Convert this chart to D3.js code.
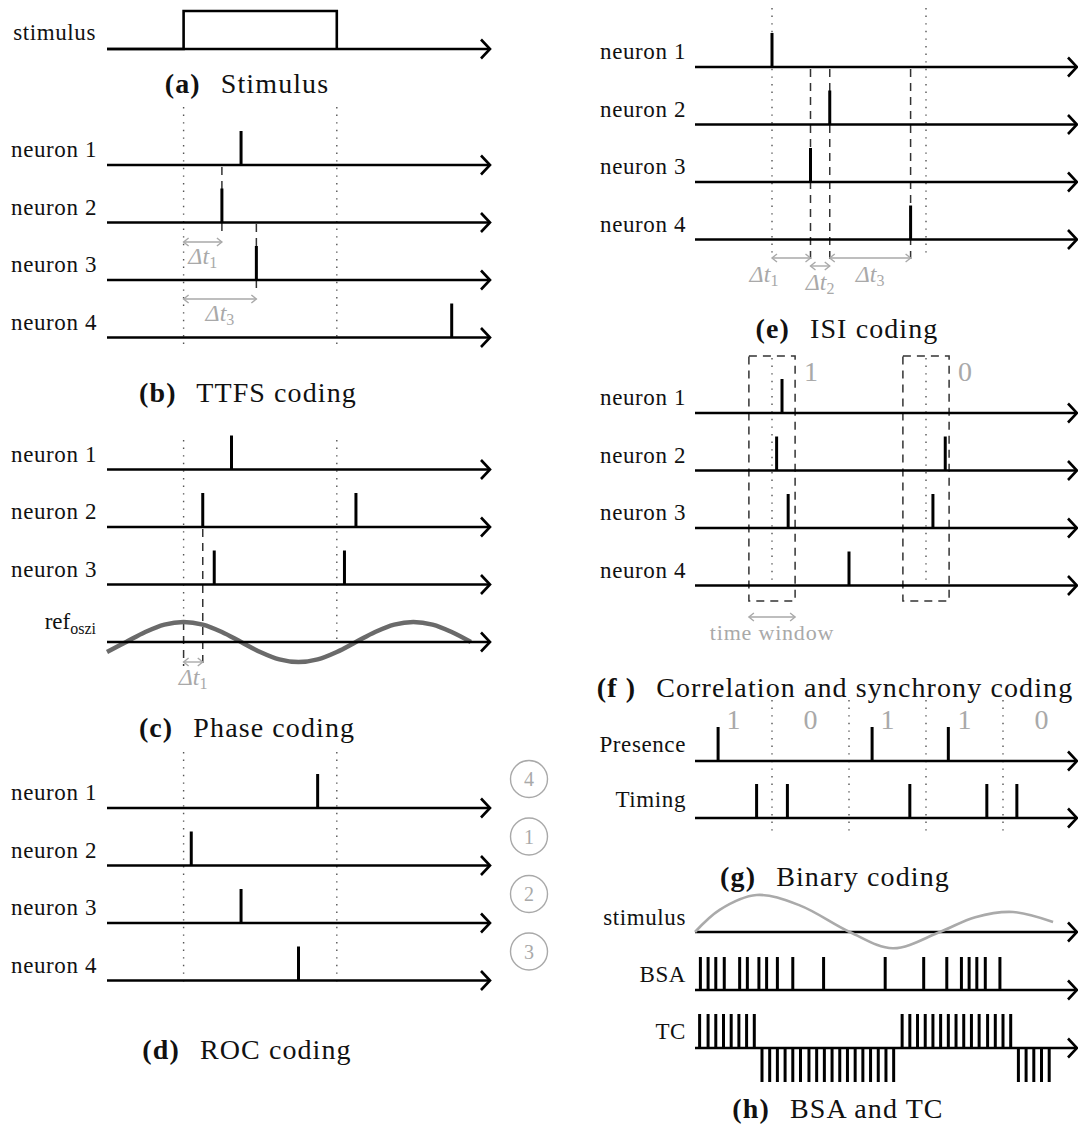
<!DOCTYPE html>
<html>
<head>
<meta charset="utf-8">
<script src="https://cdn.jsdelivr.net/npm/d3@7"></script>
<style>
  body { margin: 0; background: #fff; }
  text { font-family: "Liberation Serif", "DejaVu Serif", serif; }
</style>
</head>
<body>
<svg id="chart"></svg>
<script>
// ---- data (time units: left panels 0..10, right panels 0..5) ----
const stimulusPulse = [[0, 0], [2, 0], [2, 1], [6, 1], [6, 0]];
const neuronLabels = ["neuron 1", "neuron 2", "neuron 3", "neuron 4"];

// (b) TTFS
const ttfsSpikes = [3.5, 3.0, 3.9, 9.0];

// (c) phase coding
const phaseSpikes = [[3.25], [2.5, 6.5], [2.8, 6.2]];
const refOscT = [0, 0.5, 1, 1.5, 2, 2.5, 3, 3.5, 4, 4.5, 5, 5.5, 6, 6.5, 7, 7.5, 8, 8.5, 9, 9.5];
const refOscV = [-0.5, 0, 0.5, 0.87, 1, 0.87, 0.5, 0, -0.5, -0.87, -1, -0.87, -0.5, 0, 0.5, 0.87, 1, 0.87, 0.5, 0];

// (d) rank order
const rocSpikes = [5.5, 2.2, 3.5, 5.0];
const rocRanks = [4, 1, 2, 3];

// (e) ISI
const isiSpikes = [1.0, 1.75, 1.5, 2.8];

// (f) correlation / synchrony
const syncSpikes = [[1.13], [1.06, 3.25], [1.21, 3.09], [2.0]];
const syncWindows = [[0.7, 1.3], [2.7, 3.3]];
const syncBits = ["1", "0"];

// (g) binary coding
const binBits = ["1", "0", "1", "1", "0"];
const presenceSpikes = [0.3, 2.3, 3.29];
const timingSpikes = [0.8, 1.2, 2.79, 3.79, 4.18];

// (h) BSA and TC
const hStimT = [0, 0.32, 0.8, 1.36, 2.01, 2.57, 3.18, 3.64, 4.13, 4.65];
const hStimV = [0, 0.6, 1.0, 0.72, 0, -0.44, 0, 0.4, 0.54, 0.27];
const bsaSpikes = [0.07, 0.17, 0.27, 0.38, 0.58, 0.68, 0.83, 0.93, 1.07, 1.27, 1.67,
                   2.47, 2.97, 3.27, 3.46, 3.56, 3.66, 3.77, 3.96];
const tcTimes = [0.06, 0.17, 0.27, 0.37, 0.47, 0.57, 0.67, 0.77, 0.87, 0.97, 1.07, 1.17,
                 1.27, 1.37, 1.48, 1.58, 1.68, 1.78, 1.88, 1.98, 2.08, 2.18, 2.28, 2.38,
                 2.48, 2.58, 2.69, 2.79, 2.89, 2.99, 3.09, 3.19, 3.29, 3.39, 3.49, 3.59,
                 3.69, 3.80, 3.90, 4.00, 4.10, 4.20, 4.30, 4.40, 4.50, 4.60];
const tcSigns = [1, 1, 1, 1, 1, 1, 1, 1,
                 -1, -1, -1, -1, -1, -1, -1, -1, -1, -1, -1, -1, -1, -1, -1, -1, -1, -1,
                 1, 1, 1, 1, 1, 1, 1, 1, 1, 1, 1, 1, 1, 1, 1,
                 -1, -1, -1, -1, -1];

// ---- setup ----
const W = 1078, H = 1132;
const grey = "#a9a9a9";
const spikeH = 34;
const svg = d3.select("#chart").attr("width", W).attr("height", H);

const xL = d3.scaleLinear().domain([0, 10]).range([107, 490]);
const xR = d3.scaleLinear().domain([0, 5]).range([695, 1080]);
const leftEnd = 490, rightEnd = 1077;
const leftLabelX = 97, rightLabelX = 686;

// axis with open arrow head
function axis(x0, x1, y) {
  svg.append("line").attr("x1", x0).attr("x2", x1).attr("y1", y).attr("y2", y)
    .attr("stroke", "#000").attr("stroke-width", 2.6);
  svg.append("path").attr("d", `M${x1 - 9},${y - 9.5}L${x1},${y}L${x1 - 9},${y + 9.5}`)
    .attr("fill", "none").attr("stroke", "#000").attr("stroke-width", 2.6);
}

function spikes(x, times, y, h) {
  svg.selectAll(null).data(times).enter().append("line")
    .attr("x1", d => x(d)).attr("x2", d => x(d))
    .attr("y1", y).attr("y2", y - h)
    .attr("stroke", "#000").attr("stroke-width", 3);
}

function vline(px, y0, y1, kind) {
  const l = svg.append("line").attr("x1", px).attr("x2", px).attr("y1", y0).attr("y2", y1);
  if (kind === "dot") l.attr("stroke", "#555").attr("stroke-width", 1.4).attr("stroke-dasharray", "1.4 6.2");
  else l.attr("stroke", "#333").attr("stroke-width", 1.5).attr("stroke-dasharray", "8 6");
}

function label(xr, y, txt) {
  svg.append("text").attr("x", xr).attr("y", y).attr("text-anchor", "end")
    .attr("font-size", 23).attr("letter-spacing", 0.6).attr("fill", "#111").text(txt);
}

// grey double arrow
function gArrow(xa, xb, y) {
  const g = svg.append("g").attr("stroke", grey).attr("stroke-width", 1.4).attr("fill", "none");
  g.append("line").attr("x1", xa).attr("x2", xb).attr("y1", y).attr("y2", y);
  g.append("path").attr("d", `M${xa + 5},${y - 4}L${xa},${y}L${xa + 5},${y + 4}`);
  g.append("path").attr("d", `M${xb - 5},${y - 4}L${xb},${y}L${xb - 5},${y + 4}`);
}

function deltaLabel(px, y, sub) {
  const t = svg.append("text").attr("x", px).attr("y", y).attr("text-anchor", "middle")
    .attr("fill", grey).attr("font-size", 24);
  t.append("tspan").attr("font-style", "italic").text("\u0394t");
  t.append("tspan").attr("font-size", 16).attr("dy", 4).text(sub);
}

function caption(cx, y, tag, title) {
  const t = svg.append("text").attr("x", cx).attr("y", y).attr("text-anchor", "middle")
    .attr("font-size", 28).attr("letter-spacing", 1.1).attr("fill", "#111");
  t.append("tspan").attr("font-weight", "bold").text(tag);
  t.append("tspan").attr("dx", 12).text(" " + title);
}

// ---- (a) stimulus ----
const yA = d3.scaleLinear().domain([0, 1]).range([49, 11]);
axis(xL(0), leftEnd, 49);
svg.append("path").datum(stimulusPulse)
  .attr("d", d3.line().x(d => xL(d[0])).y(d => yA(d[1])))
  .attr("fill", "none").attr("stroke", "#000").attr("stroke-width", 2.6);
label(96, 40, "stimulus");
caption(247, 93, "(a)", "Stimulus");

// ---- (b) TTFS ----
const rowsB = [165, 222.5, 280, 337.5];
vline(xL(2), 107, 350, "dot");
vline(xL(6), 107, 350, "dot");
vline(xL(ttfsSpikes[1]), 167, 235, "dash");
vline(xL(ttfsSpikes[2]), 224, 293, "dash");
rowsB.forEach((y, i) => {
  axis(xL(0), leftEnd, y);
  spikes(xL, [ttfsSpikes[i]], y, spikeH);
  label(leftLabelX, y - 8, neuronLabels[i]);
});
gArrow(xL(2), xL(ttfsSpikes[1]), 242);
deltaLabel((xL(2) + xL(ttfsSpikes[1])) / 2, 264, "1");
gArrow(xL(2), xL(ttfsSpikes[2]), 299);
deltaLabel((xL(2) + xL(ttfsSpikes[2])) / 2, 321, "3");
caption(248, 402, "(b)", "TTFS coding");

// ---- (c) phase coding ----
const rowsC = [469.5, 527, 584.5];
const yRef = 642;
vline(xL(2), 440, 622, "dot");
vline(xL(6), 440, 642, "dot");
vline(xL(2), 622, 666, "dash");
vline(xL(phaseSpikes[1][0]), 529, 666, "dash");
const yOsc = d3.scaleLinear().domain([-1, 1]).range([yRef + 20, yRef - 20]);
svg.append("path").datum(refOscT.map((t, i) => [t, refOscV[i]]))
  .attr("d", d3.line().curve(d3.curveCatmullRom).x(d => xL(d[0])).y(d => yOsc(d[1])))
  .attr("fill", "none").attr("stroke", "#6a6a6a").attr("stroke-width", 4.5);
rowsC.forEach((y, i) => {
  axis(xL(0), leftEnd, y);
  spikes(xL, phaseSpikes[i], y, spikeH);
  label(leftLabelX, y - 8, neuronLabels[i]);
});
axis(xL(0), leftEnd, yRef);
{
  const t = svg.append("text").attr("x", 96).attr("y", 629).attr("text-anchor", "end")
    .attr("font-size", 23).attr("fill", "#111");
  t.append("tspan").text("ref");
  t.append("tspan").attr("font-size", 16).attr("dy", 5).text("oszi");
}
gArrow(xL(2), xL(phaseSpikes[1][0]), 662);
deltaLabel((xL(2) + xL(phaseSpikes[1][0])) / 2, 685, "1");
caption(247, 737, "(c)", "Phase coding");

// ---- (d) ROC ----
const rowsD = [808, 865.5, 923, 980.5];
vline(xL(2), 752, 986, "dot");
vline(xL(6), 752, 986, "dot");
rowsD.forEach((y, i) => {
  axis(xL(0), leftEnd, y);
  spikes(xL, [rocSpikes[i]], y, spikeH);
  label(leftLabelX, y - 8, neuronLabels[i]);
  svg.append("circle").attr("cx", 529).attr("cy", y - 29).attr("r", 18.5)
    .attr("fill", "none").attr("stroke", grey).attr("stroke-width", 1.4);
  svg.append("text").attr("x", 529).attr("y", y - 22).attr("text-anchor", "middle")
    .attr("font-size", 20).attr("fill", grey).text(rocRanks[i]);
});
caption(247, 1059, "(d)", "ROC coding");

// ---- (e) ISI ----
const rowsE = [67, 124.5, 182, 239.5];
vline(xR(1), 8, 253, "dot");
vline(xR(3), 8, 253, "dot");
[isiSpikes[2], isiSpikes[1], isiSpikes[3]].forEach(t => vline(xR(t), 69, 262, "dash"));
rowsE.forEach((y, i) => {
  axis(xR(0), rightEnd, y);
  spikes(xR, [isiSpikes[i]], y, spikeH);
  label(rightLabelX, y - 8, neuronLabels[i]);
});
gArrow(xR(isiSpikes[0]), xR(isiSpikes[2]), 258);
gArrow(xR(isiSpikes[2]), xR(isiSpikes[1]), 266);
gArrow(xR(isiSpikes[1]), xR(isiSpikes[3]), 258);
deltaLabel(764, 282, "1");
deltaLabel((xR(isiSpikes[2]) + xR(isiSpikes[1])) / 2, 290, "2");
deltaLabel((xR(isiSpikes[1]) + xR(isiSpikes[3])) / 2, 282, "3");
caption(847, 338, "(e)", "ISI coding");

// ---- (f) correlation and synchrony ----
const rowsF = [413, 470.5, 528, 585.5];
syncWindows.forEach((w, i) => {
  svg.append("rect").attr("x", xR(w[0])).attr("y", 356)
    .attr("width", xR(w[1]) - xR(w[0])).attr("height", 245)
    .attr("fill", "none").attr("stroke", "#333").attr("stroke-width", 1.5)
    .attr("stroke-dasharray", "8 6");
  vline(xR((w[0] + w[1]) / 2), 358, 586, "dot");
  svg.append("text").attr("x", xR(w[1]) + 16).attr("y", 381).attr("text-anchor", "middle")
    .attr("font-size", 28).attr("fill", grey).text(syncBits[i]);
});
rowsF.forEach((y, i) => {
  axis(xR(0), rightEnd, y);
  spikes(xR, syncSpikes[i], y, spikeH);
  label(rightLabelX, y - 8, neuronLabels[i]);
});
gArrow(xR(syncWindows[0][0]), xR(syncWindows[0][1]), 617);
svg.append("text").attr("x", (xR(syncWindows[0][0]) + xR(syncWindows[0][1])) / 2).attr("y", 640)
  .attr("text-anchor", "middle").attr("font-size", 22).attr("letter-spacing", 0.8)
  .attr("fill", grey).text("time window");
caption(835, 697, "(f )", "Correlation and synchrony coding");

// ---- (g) binary coding ----
const rowsG = [761, 818];
[1, 2, 3, 4].forEach(t => vline(xR(t), 700, 836, "dot"));
svg.selectAll(null).data(binBits).enter().append("text")
  .attr("x", (d, i) => xR(i + 0.5)).attr("y", 729).attr("text-anchor", "middle")
  .attr("font-size", 28).attr("fill", grey).text(d => d);
axis(xR(0), rightEnd, rowsG[0]);
axis(xR(0), rightEnd, rowsG[1]);
spikes(xR, presenceSpikes, rowsG[0], spikeH);
spikes(xR, timingSpikes, rowsG[1], spikeH);
label(rightLabelX, rowsG[0] - 9, "Presence");
label(rightLabelX, rowsG[1] - 11, "Timing");
caption(835, 886, "(g)", "Binary coding");

// ---- (h) BSA and TC ----
const rowsH = [932, 990, 1048];
const yStim = d3.scaleLinear().domain([-1, 1]).range([rowsH[0] + 37, rowsH[0] - 37]);
axis(xR(0), rightEnd, rowsH[0]);
svg.append("path").datum(hStimT.map((t, i) => [t, hStimV[i]]))
  .attr("d", d3.line().curve(d3.curveCatmullRom).x(d => xR(d[0])).y(d => yStim(d[1])))
  .attr("fill", "none").attr("stroke", "#aaa").attr("stroke-width", 2.6);
axis(xR(0), rightEnd, rowsH[1]);
spikes(xR, bsaSpikes, rowsH[1], 33);
axis(xR(0), rightEnd, rowsH[2]);
svg.selectAll(null).data(tcTimes).enter().append("line")
  .attr("x1", d => xR(d)).attr("x2", d => xR(d))
  .attr("y1", rowsH[2]).attr("y2", (d, i) => rowsH[2] - tcSigns[i] * spikeH)
  .attr("stroke", "#000").attr("stroke-width", 3);
label(rightLabelX, rowsH[0] - 7, "stimulus");
label(rightLabelX, rowsH[1] - 8, "BSA");
label(rightLabelX, rowsH[2] - 9, "TC");
caption(838, 1118, "(h)", "BSA and TC");
</script>
</body>
</html>
